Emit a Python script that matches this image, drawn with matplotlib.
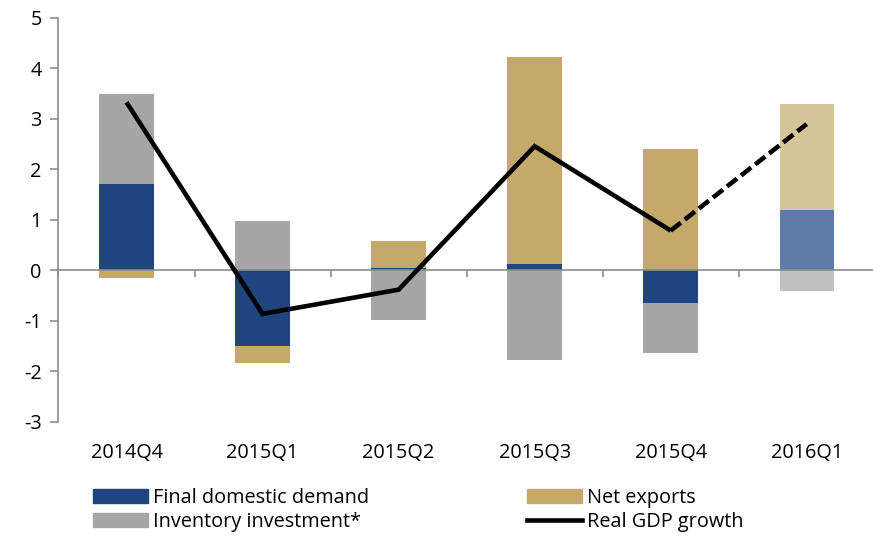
import matplotlib
matplotlib.use("Agg")
import matplotlib.pyplot as plt
import numpy as np
from matplotlib.patches import Patch
from matplotlib.lines import Line2D

plt.rcParams['font.family'] = ['Open Sans', 'DejaVu Sans']

quarters = ["2014Q4", "2015Q1", "2015Q2", "2015Q3", "2015Q4", "2016Q1"]
final_domestic_demand = [1.71, -1.50, 0.05, 0.12, -0.64, 1.19]
net_exports = [-0.15, -0.33, 0.54, 4.10, 2.41, 2.10]
inventory_investment = [1.79, 0.97, -0.99, -1.78, -1.00, -0.41]
real_gdp_growth = [3.33, -0.86, -0.38, 2.46, 0.79, 2.90]
forecast_flags = [False, False, False, False, False, True]

c_fdd, c_nx, c_inv = "#1F4480", "#C4A96A", "#A6A6A6"
c_fdd_f, c_nx_f, c_inv_f = "#5F7CA8", "#D6C598", "#C0C0C0"

fig = plt.figure(figsize=(8.73, 5.37), dpi=100)
ax = fig.add_axes([0.067, 0.2142, 0.935, 0.7523])

x = np.arange(len(quarters))
w = 0.4

fdd = np.array(final_domestic_demand)
nx = np.array(net_exports)
inv = np.array(inventory_investment)

for i in range(len(x)):
    comps = [(fdd[i], c_fdd_f if forecast_flags[i] else c_fdd),
             (nx[i], c_nx_f if forecast_flags[i] else c_nx),
             (inv[i], c_inv_f if forecast_flags[i] else c_inv)]
    pos, neg = 0.0, 0.0
    for v, col in comps:
        if v >= 0:
            ax.bar(x[i], v, w, bottom=pos, color=col, zorder=2)
            pos += v
        else:
            ax.bar(x[i], v, w, bottom=neg, color=col, zorder=2)
            neg += v

gdp = np.array(real_gdp_growth)
ax.plot(x[:5], gdp[:5], color="black", lw=3.3, zorder=4, solid_capstyle='butt', solid_joinstyle='miter')
ax.plot(x[4:], gdp[4:], color="black", lw=3.3, zorder=4, dashes=(2.8, 1.1), dash_capstyle='butt')

ax.set_xlim(-0.5, 5.5)
ax.set_ylim(-3, 5)
ax.set_yticks(range(-3, 6))
ax.set_yticklabels([str(v) for v in range(-3, 6)])

for s in ["top", "right"]:
    ax.spines[s].set_visible(False)
ax.spines['left'].set_color("#8C8C8C")
ax.spines['left'].set_linewidth(1.2)
ax.spines['bottom'].set_position(('data', 0))
ax.spines['bottom'].set_color("#8C8C8C")
ax.spines['bottom'].set_linewidth(1.2)
ax.spines['bottom'].set_zorder(3)

fs = 14.3
ax.set_xticks(x)
ax.set_xticklabels(quarters)
ax.set_xticks(np.arange(-0.5, 6.0, 1.0), minor=True)
ax.tick_params(axis='x', which='major', length=0, pad=124, labelsize=fs, colors='black')
ax.tick_params(axis='x', which='minor', length=5, width=1.2, color="#8C8C8C", direction='out')
ax.tick_params(axis='y', length=6, width=1.2, color="#8C8C8C", labelsize=fs, pad=6)

h1 = [Patch(color=c_fdd), Patch(color=c_inv)]
l1 = ["Final domestic demand", "Inventory investment*"]
h2 = [Patch(color=c_nx), Line2D([0], [0], color="black", lw=3.3)]
l2 = ["Net exports", "Real GDP growth"]
kw = dict(frameon=False, fontsize=fs, handlelength=2.75, handleheight=0.65,
          handletextpad=0.25, labelspacing=0.2, borderaxespad=0, borderpad=0)
fig.legend(h1, l1, loc='upper left', bbox_to_anchor=(93/873, 1 - 488/537), **kw)
fig.legend(h2, l2, loc='upper left', bbox_to_anchor=(527/873, 1 - 488/537), **kw)

fig.savefig("out.png", dpi=100)
